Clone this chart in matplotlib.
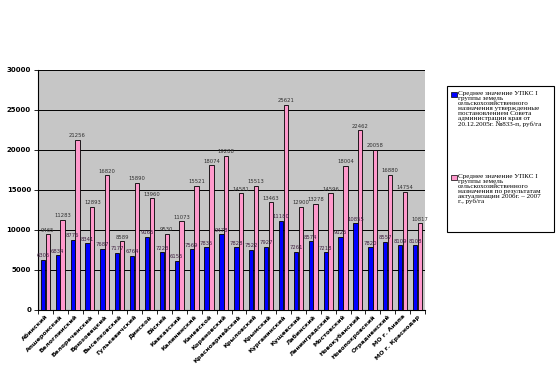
import matplotlib
matplotlib.use("Agg")
import matplotlib.pyplot as plt
import numpy as np
from matplotlib.patches import Rectangle

categories = ["Абинский", "Апшеронский", "Белоглинский", "Белореченский", "Брюховецкий",
              "Выселковский", "Гулькевичский", "Динской", "Ейский", "Кавказский",
              "Калининский", "Каневской", "Кореновский", "Красноармейский", "Крыловский",
              "Крымский", "Курганинский", "Кущевский", "Лабинский", "Ленинградский",
              "Мостовский", "Новокубанский", "Новопокровский", "Отрадненский",
              "МО г. Анапа", "МО г. Краснодар"]
upks_2005 = [6305, 6834, 8776, 8341, 7687, 7177, 6764, 9165, 7223, 6155,
             7569, 7835, 9478, 7828, 7522, 7927, 11180, 7261, 8574, 7218,
             9125, 10855, 7820, 8557, 8109, 8108]
upks_2007 = [9465, 11283, 21256, 12893, 16820, 8589, 15890, 13960, 9530, 11073,
             15521, 18074, 19288, 14581, 15513, 13463, 25621, 12900, 13278, 14596,
             18004, 22462, 20058, 16880, 14754, 10817]
legend_labels = [
    "Среднее значение УПКС I\nгруппы земель\nсельскохозяйственного\nназначения утвержденные\nпостановлением Совета\nадминистрации края от\n20.12.2005г. №833-п, руб/га",
    "Среднее значение УПКС I\nгруппы земель\nсельскохозяйственного\nназначения по результатам\nактуализации 2006г. – 2007\nг., руб/га",
]

W, H = 559, 376
fig = plt.figure(figsize=(W / 100, H / 100), dpi=100)
ax = fig.add_axes([38 / W, 1 - 310 / H, (425 - 38) / W, (310 - 70) / H])

x = np.arange(len(categories))
bw = 0.29
ax.set_facecolor("#c6c6c6")
ax.bar(x - 0.17, upks_2005, bw, color="#0000ff", edgecolor="black", linewidth=0.6, zorder=3)
ax.bar(x + 0.15, upks_2007, bw, color="#ff99cc", edgecolor="black", linewidth=0.6, zorder=3)

for xi, v in zip(x, upks_2005):
    ax.text(xi - 0.17, v + 200, str(v), ha="center", va="bottom", fontsize=3.8,
            color="#402040", zorder=4)
for xi, v in zip(x, upks_2007):
    ax.text(xi + 0.15, v + 200, str(v), ha="center", va="bottom", fontsize=3.8,
            color="#303030", zorder=4)

ax.set_xlim(-0.5, len(categories) - 0.5)
ax.set_ylim(0, 30000)
ax.set_yticks(range(0, 30001, 5000))
ax.set_yticklabels([str(t) for t in range(0, 30001, 5000)], fontsize=5, fontweight="bold")
ax.yaxis.grid(True, color="black", linewidth=0.7, zorder=1)
ax.set_axisbelow(True)
ax.set_xticks(x)
ax.set_xticklabels(categories, rotation=45, ha="right", rotation_mode="anchor",
                   fontsize=4.5, fontweight="bold")
ax.set_xticks(np.arange(-0.5, len(categories)), minor=True)
ax.tick_params(axis="x", which="major", length=0, pad=3)
ax.tick_params(axis="x", which="minor", length=3, width=0.6, direction="out")
ax.tick_params(axis="y", length=3, width=0.6, pad=2)
for s in ["top", "right"]:
    ax.spines[s].set_visible(False)
ax.spines["left"].set_linewidth(0.8)
ax.spines["bottom"].set_linewidth(0.8)

# legend box
fig.patches.append(Rectangle((447 / W, 1 - 232 / H), (554 - 447) / W, (232 - 86) / H,
                             transform=fig.transFigure, facecolor="white",
                             edgecolor="black", linewidth=0.8))
colors = ["#0000ff", "#ff99cc"]
tops = [91, 174]
for lab, c, t in zip(legend_labels, colors, tops):
    fig.patches.append(Rectangle((451 / W, 1 - (t + 6) / H), 5.5 / W, 5.5 / H,
                                 transform=fig.transFigure, facecolor=c,
                                 edgecolor="black", linewidth=0.5))
    fig.text(458 / W, 1 - t / H, lab, fontsize=5.15, family="Liberation Serif",
             va="top", ha="left", linespacing=1.0)

fig.savefig("out.png", dpi=100)
